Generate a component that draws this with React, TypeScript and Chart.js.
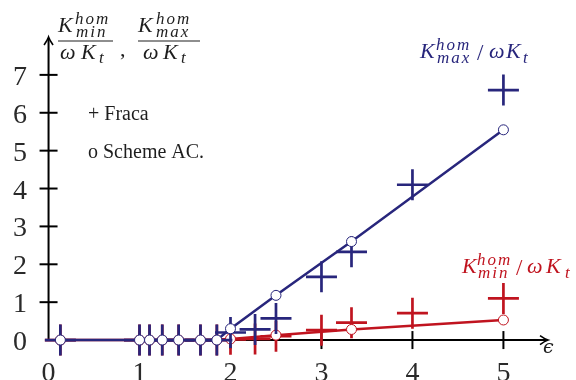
import React, { useEffect, useRef } from "react";
import { Chart, registerables } from "chart.js";
Chart.register(...registerables);

// ---- data ----
const fracaEps = [0.13, 1, 1.11, 1.25, 1.43, 1.67, 1.85, 2.0, 2.27, 2.5, 3.0, 3.33, 4, 5];
const fracaMax = [0, 0, 0, 0, 0, 0, 0, 0.2, 0.28, 0.57, 1.67, 2.33, 4.1, 6.6];
const fracaMin = [0, 0, 0, 0, 0, 0, 0, 0.02, 0.03, 0.1, 0.26, 0.46, 0.71, 1.1];
const schemeEps = [0.13, 1, 1.11, 1.25, 1.43, 1.67, 1.85, 2.0, 2.5, 3.33, 5];
const schemeMax = [0, 0, 0, 0, 0, 0, 0, 0.3, 1.18, 2.6, 5.55];
const schemeMin = [0, 0, 0, 0, 0, 0, 0, 0.03, 0.13, 0.28, 0.53];
const xTicks = [0, 1, 2, 3, 4, 5];
const yTicks = [0, 1, 2, 3, 4, 5, 6, 7];
const legendLines = ["+ Fraca", "o Scheme AC."];

const BLUE = "#28267c";
const RED = "#c0141f";
const INK = "#1e1e1e";
const SERIF = '"Liberation Serif"';

function txt(ctx: CanvasRenderingContext2D, s: string, x: number, y: number, size: number, color: string, italic = true, family = SERIF, spacing = 0) {
  ctx.font = `${italic ? "italic " : ""}${size}px ${family}`;
  ctx.fillStyle = color;
  ctx.textAlign = "left";
  ctx.textBaseline = "alphabetic";
  (ctx as any).letterSpacing = `${spacing}px`;
  ctx.fillText(s, x, y);
  (ctx as any).letterSpacing = "0px";
}
const scr = (ctx: CanvasRenderingContext2D, s: string, x: number, y: number, color: string) =>
  txt(ctx, s, x, y, 17, color, true, SERIF, 2);

const axesPlugin = {
  id: "texAxes",
  beforeDraw(chart: any) {
    const ctx = chart.ctx as CanvasRenderingContext2D;
    ctx.save();
    ctx.fillStyle = "#fff";
    ctx.fillRect(0, 0, chart.width, chart.height);
    ctx.restore();
  },
  beforeDatasetsDraw(chart: any) {
    const ctx = chart.ctx as CanvasRenderingContext2D;
    const xs = chart.scales.x;
    const ys = chart.scales.y;
    const x0 = xs.getPixelForValue(0);
    const y0 = ys.getPixelForValue(0);
    ctx.save();
    ctx.strokeStyle = "#000";
    ctx.lineWidth = 2;
    ctx.beginPath();
    ctx.moveTo(xs.left + 1, y0);
    ctx.lineTo(xs.right - 1, y0);
    ctx.stroke();
    ctx.beginPath();
    ctx.moveTo(x0, y0);
    ctx.lineTo(x0, ys.top + 1);
    ctx.stroke();
    ctx.lineWidth = 1.6;
    ctx.beginPath();
    const tx = xs.right;
    ctx.moveTo(tx - 8, y0 - 4.5);
    ctx.quadraticCurveTo(tx - 3, y0 - 1, tx, y0);
    ctx.quadraticCurveTo(tx - 3, y0 + 1, tx - 8, y0 + 4.5);
    ctx.stroke();
    const ty = ys.top;
    ctx.beginPath();
    ctx.moveTo(x0 - 4.5, ty + 8);
    ctx.quadraticCurveTo(x0 - 1, ty + 3, x0, ty);
    ctx.quadraticCurveTo(x0 + 1, ty + 3, x0 + 4.5, ty + 8);
    ctx.stroke();
    ctx.lineWidth = 2;
    xTicks.forEach((v) => {
      if (v === 0) return;
      const px = xs.getPixelForValue(v);
      ctx.beginPath();
      ctx.moveTo(px, y0 - 9);
      ctx.lineTo(px, y0 + 9);
      ctx.stroke();
    });
    yTicks.forEach((v) => {
      if (v === 0) return;
      const py = ys.getPixelForValue(v);
      ctx.beginPath();
      ctx.moveTo(x0 - 9, py);
      ctx.lineTo(x0 + 9, py);
      ctx.stroke();
    });
    ctx.fillStyle = "#2a2a2a";
    ctx.font = `28px ${SERIF}`;
    ctx.textBaseline = "alphabetic";
    ctx.textAlign = "center";
    xTicks.forEach((v) => {
      ctx.fillText(String(v), xs.getPixelForValue(v), 381);
    });
    yTicks.forEach((v) => {
      ctx.fillText(String(v), 20, ys.getPixelForValue(v) + 10);
    });
    txt(ctx, "\u03f5", 543, 353, 19, INK, true, '"DejaVu Serif"');
    ctx.restore();
  },
  afterDatasetsDraw(chart: any) {
    const ctx = chart.ctx as CanvasRenderingContext2D;
    ctx.save();
    // y label: two fractions
    txt(ctx, "K", 58, 32, 22, INK);
    scr(ctx, "hom", 75, 24, INK);
    scr(ctx, "min", 76, 37, INK);
    txt(ctx, "\u03c9", 60, 59, 22, INK);
    txt(ctx, "K", 81, 59, 22, INK);
    scr(ctx, "t", 99, 63, INK);
    txt(ctx, ",", 120, 56, 22, INK, false);
    txt(ctx, "K", 138, 32, 22, INK);
    scr(ctx, "hom", 156, 24, INK);
    scr(ctx, "max", 156, 37, INK);
    txt(ctx, "\u03c9", 143, 59, 22, INK);
    txt(ctx, "K", 163, 59, 22, INK);
    scr(ctx, "t", 181, 63, INK);
    ctx.strokeStyle = INK;
    ctx.lineWidth = 1.2;
    ctx.beginPath();
    ctx.moveTo(58, 41);
    ctx.lineTo(113, 41);
    ctx.moveTo(138, 41);
    ctx.lineTo(200, 41);
    ctx.stroke();
    // blue label
    txt(ctx, "K", 420, 58, 22, BLUE);
    scr(ctx, "hom", 436, 50, BLUE);
    scr(ctx, "max", 437, 63, BLUE);
    txt(ctx, "/", 477, 60, 23, BLUE, false);
    txt(ctx, "\u03c9", 489, 58, 22, BLUE);
    txt(ctx, "K", 506, 58, 22, BLUE);
    scr(ctx, "t", 523, 63, BLUE);
    // red label
    txt(ctx, "K", 462, 273, 22, RED);
    scr(ctx, "hom", 477, 265, RED);
    scr(ctx, "min", 478, 278, RED);
    txt(ctx, "/", 516, 275, 23, RED, false);
    txt(ctx, "\u03c9", 527, 273, 22, RED);
    txt(ctx, "K", 546, 273, 22, RED);
    scr(ctx, "t", 565, 278, RED);
    // legend text
    txt(ctx, legendLines[0], 88, 120, 20, INK, false);
    txt(ctx, legendLines[1], 88, 158, 20, INK, false);
    ctx.restore();
  },
};

export default function App() {
  const ref = useRef<HTMLCanvasElement | null>(null);
  useEffect(() => {
    if (!ref.current) return;
    const pts = (xs: number[], ys: number[]) => xs.map((x, i) => ({ x, y: ys[i] }));
    const chart = new Chart(ref.current, {
      type: "scatter",
      data: {
        datasets: [
          {
            label: "Scheme AC max",
            data: pts(schemeEps, schemeMax),
            showLine: true,
            borderColor: BLUE,
            borderWidth: 2.5,
            pointRadius: 5,
            pointBackgroundColor: "#fff",
            pointBorderColor: BLUE,
            pointBorderWidth: 1,
            order: 0,
            clip: false,
          } as any,
          {
            label: "Fraca max",
            data: pts(fracaEps, fracaMax),
            showLine: false,
            pointStyle: "cross",
            pointRadius: 15.5,
            pointBorderColor: BLUE,
            pointBorderWidth: 2.7,
            order: 1,
            clip: false,
          } as any,
          {
            label: "Scheme AC min",
            data: pts(schemeEps, schemeMin),
            showLine: true,
            borderColor: RED,
            borderWidth: 2.5,
            pointRadius: 5,
            pointBackgroundColor: "#fff",
            pointBorderColor: RED,
            pointBorderWidth: 1,
            order: 2,
            clip: false,
          } as any,
          {
            label: "Fraca min",
            data: pts(fracaEps, fracaMin),
            showLine: false,
            pointStyle: "cross",
            pointRadius: 15.5,
            pointBorderColor: RED,
            pointBorderWidth: 2.7,
            order: 3,
            clip: false,
          } as any,
        ],
      },
      options: {
        responsive: false,
        animation: false,
        devicePixelRatio: 1,
        layout: { padding: { left: 44, right: 28, top: 37, bottom: 21 } },
        scales: {
          x: { type: "linear", min: -0.05, max: 5.49, display: false },
          y: { type: "linear", min: -0.5, max: 8, display: false },
        },
        plugins: { legend: { display: false }, tooltip: { enabled: false } },
        elements: { line: { tension: 0 } },
      },
      plugins: [axesPlugin],
    });
    (document as any).fonts?.load?.(`italic 22px ${SERIF}`).then(() => chart.draw()).catch(() => {});
    return () => chart.destroy();
  }, []);
  return (
    <div style={{ position: "absolute", left: 0, top: 0, width: 576, height: 380, background: "#fff" }}>
      <canvas ref={ref} width={576} height={380} style={{ display: "block", width: 576, height: 380 }} />
    </div>
  );
}
